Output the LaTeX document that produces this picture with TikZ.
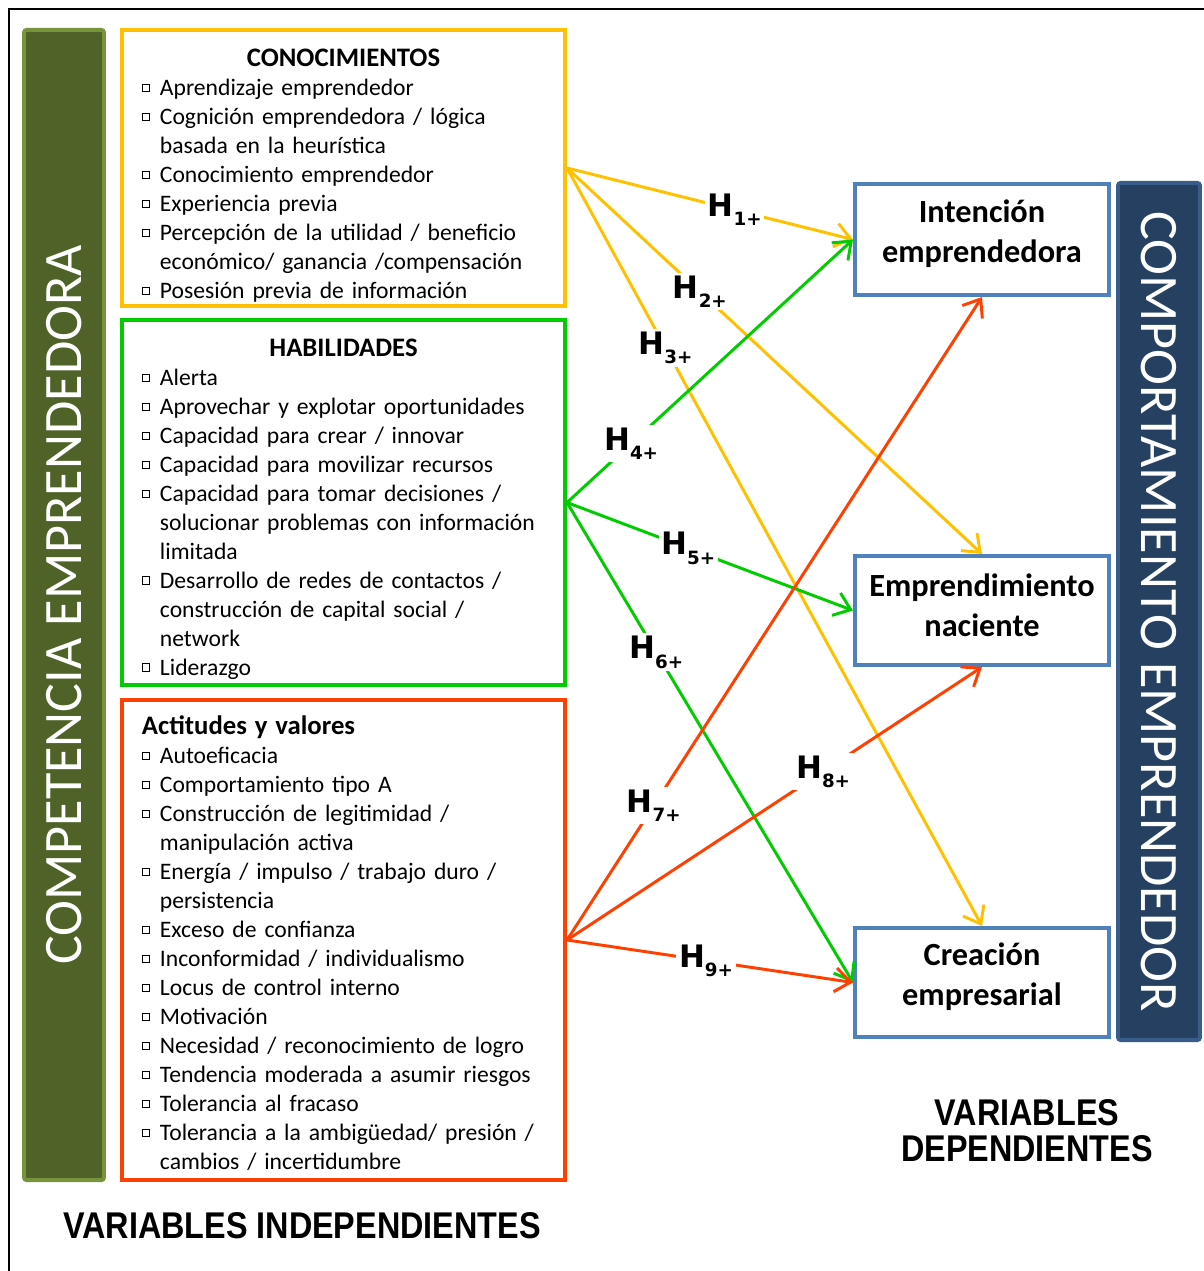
\documentclass[tikz,border=0pt]{standalone}
\usepackage{fontspec}
\setmainfont{Carlito}
\newfontfamily\arialfont{Liberation Sans}
\newfontfamily\hypfont{DejaVu Sans}
\usetikzlibrary{arrows.meta}

\definecolor{conorange}{RGB}{255,192,0}
\definecolor{habgreen}{RGB}{0,204,0}
\definecolor{actred}{RGB}{255,64,0}
\definecolor{depblue}{RGB}{79,129,189}
\definecolor{olivefill}{RGB}{79,98,40}
\definecolor{oliveline}{RGB}{119,147,60}
\definecolor{navyfill}{RGB}{38,64,97}
\definecolor{navyline}{RGB}{56,93,138}

\newcommand\bul{\makebox[12.8pt][l]{\raisebox{0.4ex}{\fboxsep0pt\fboxrule0.6pt\fbox{\rule{0pt}{4.5pt}\hspace{4.5pt}}}}}
\newcommand\ind{\hspace*{12.8pt}}
\newcommand\boxtitle[1]{{\bfseries\fontsize{19}{20.6}\selectfont #1}}
\newcommand\hsub[1]{H\raisebox{-0.3em}{\fontsize{13}{13}\selectfont #1}}
\newcommand\tallbox[1]{\scalebox{1}[1.15]{#1}}

\tikzset{>={Straight Barb[length=11pt,width=17pt]}}
\tikzset{
  varbox/.style={draw, line width=2.8pt, fill=white, minimum width=11.075cm},
  vartext/.style={inner sep=0pt, text width=10.075cm, align=left,
    font=\fontsize{16.8}{20.6}\selectfont},
  depbox/.style={draw=depblue, line width=2.8pt, fill=white, minimum width=6.35cm,
    minimum height=2.725cm},
  deptext/.style={inner sep=0pt, align=center, font=\bfseries\fontsize{23}{28.5}\selectfont},
  sidebar/.style={line width=2.8pt, rounded corners=2pt, text=white, inner sep=0pt,
    font=\fontsize{38.5}{40}\selectfont},
  hyp/.style={->, line width=2.1pt},
  hlab/.style={fill=white, text=black, inner sep=2pt, font=\hypfont\bfseries\fontsize{22}{22}\selectfont},
  varlab/.style={align=center, font=\arialfont\bfseries\fontsize{23}{25.5}\selectfont}
}

\begin{document}
\begin{tikzpicture}[x=0.025cm, y=-0.025cm]
    \useasboundingbox (0,0) rectangle (1204,1271);
    \draw[line width=1.6pt] (9,1271) -- (9,9) -- (1204,9);

    % independent side
    \node[sidebar, draw=oliveline, fill=olivefill, rotate=90, minimum width=28.75cm,
      minimum height=2cm] (compet) at (64,605) {COMPETENCIA EMPRENDEDORA};
    \node[varbox, draw=conorange, minimum height=6.9cm] (con) at (343.5,168) {};
    \node[vartext] (contxt) at (343.5,176) {%
      \hfill\boxtitle{CONOCIMIENTOS}\hfill\null\\
      \bul Aprendizaje emprendedor\\
      \bul Cognición emprendedora / lógica\\
      \ind basada en la heurística\\
      \bul Conocimiento emprendedor\\
      \bul Experiencia previa\\
      \bul Percepción de la utilidad / beneficio\\
      \ind económico/ ganancia /compensación\\
      \bul Posesión previa de información};
    \node[varbox, draw=habgreen, minimum height=9.125cm] (hab) at (343.5,502.5) {};
    \node[vartext] (habtxt) at (343.5,509) {%
      \hfill\boxtitle{HABILIDADES}\hfill\null\\
      \bul Alerta\\
      \bul Aprovechar y explotar oportunidades\\
      \bul Capacidad para crear / innovar\\
      \bul Capacidad para movilizar recursos\\
      \bul Capacidad para tomar decisiones /\\
      \ind solucionar problemas con información\\
      \ind limitada\\
      \bul Desarrollo de redes de contactos /\\
      \ind construcción de capital social /\\
      \ind network\\
      \bul Liderazgo};
    \node[varbox, draw=actred, minimum height=12cm] (act) at (343.5,940) {};
    \node[vartext] (acttxt) at (343.5,943) {%
      \boxtitle{Actitudes y valores}\\
      \bul Autoeficacia\\
      \bul Comportamiento tipo A\\
      \bul Construcción de legitimidad /\\
      \ind manipulación activa\\
      \bul Energía / impulso / trabajo duro /\\
      \ind persistencia\\
      \bul Exceso de confianza\\
      \bul Inconformidad / individualismo\\
      \bul Locus de control interno\\
      \bul Motivación\\
      \bul Necesidad / reconocimiento de logro\\
      \bul Tendencia moderada a asumir riesgos\\
      \bul Tolerancia al fracaso\\
      \bul Tolerancia a la ambigüedad/ presión /\\
      \ind cambios / incertidumbre};

    % dependent side
    \node[depbox, minimum height=2.775cm] (int) at (982,239.5) {};
    \node[deptext] (inttxt) at (982,234) {Intención\\emprendedora};
    \node[depbox] (emp) at (982,610.5) {};
    \node[deptext] (emptxt) at (982,605) {Emprendimiento\\naciente};
    \node[depbox] (cre) at (982,982.5) {};
    \node[deptext] (cretxt) at (982,977) {Creación\\empresarial};
    \node[sidebar, draw=navyline, fill=navyfill, rotate=-90, minimum width=21.425cm,
      minimum height=2.05cm] (comport) at (1159,611.5) {COMPORTAMIENTO EMPRENDEDOR};

    % hypotheses
    \draw[hyp, conorange] (con.east) -- node[hlab, pos=0.586] (h1) {\hsub{1+}} (int.west);
    \draw[hyp, conorange] (con.east) -- node[hlab, pos=0.32] (h2) {\hsub{2+}} (emp.north);
    \draw[hyp, conorange] (con.east) -- node[hlab, pos=0.237] (h3) {\hsub{3+}} (cre.north);
    \draw[hyp, habgreen] (hab.east) -- node[hlab, pos=0.224] (h4) {\hsub{4+}} (int.west);
    \draw[hyp, habgreen] (hab.east) -- node[hlab, pos=0.424] (h5) {\hsub{5+}} (emp.west);
    \draw[hyp, habgreen] (hab.east) -- node[hlab, pos=0.312] (h6) {\hsub{6+}} (cre.west);
    \draw[hyp, actred] (act.east) -- node[hlab, pos=0.209] (h7) {\hsub{7+}} (int.south);
    \draw[hyp, actred] (act.east) -- node[hlab, pos=0.617] (h8) {\hsub{8+}} (emp.south);
    \draw[hyp, actred] (act.east) -- node[hlab, pos=0.486] (h9) {\hsub{9+}} (cre.west);

    \node[varlab] (indep) at (302,1226) {\tallbox{VARIABLES INDEPENDIENTES}};
    \node[varlab] (dep) at (1027,1131) {\tallbox{VARIABLES}\\\tallbox{DEPENDIENTES}};
\end{tikzpicture}
\end{document}
